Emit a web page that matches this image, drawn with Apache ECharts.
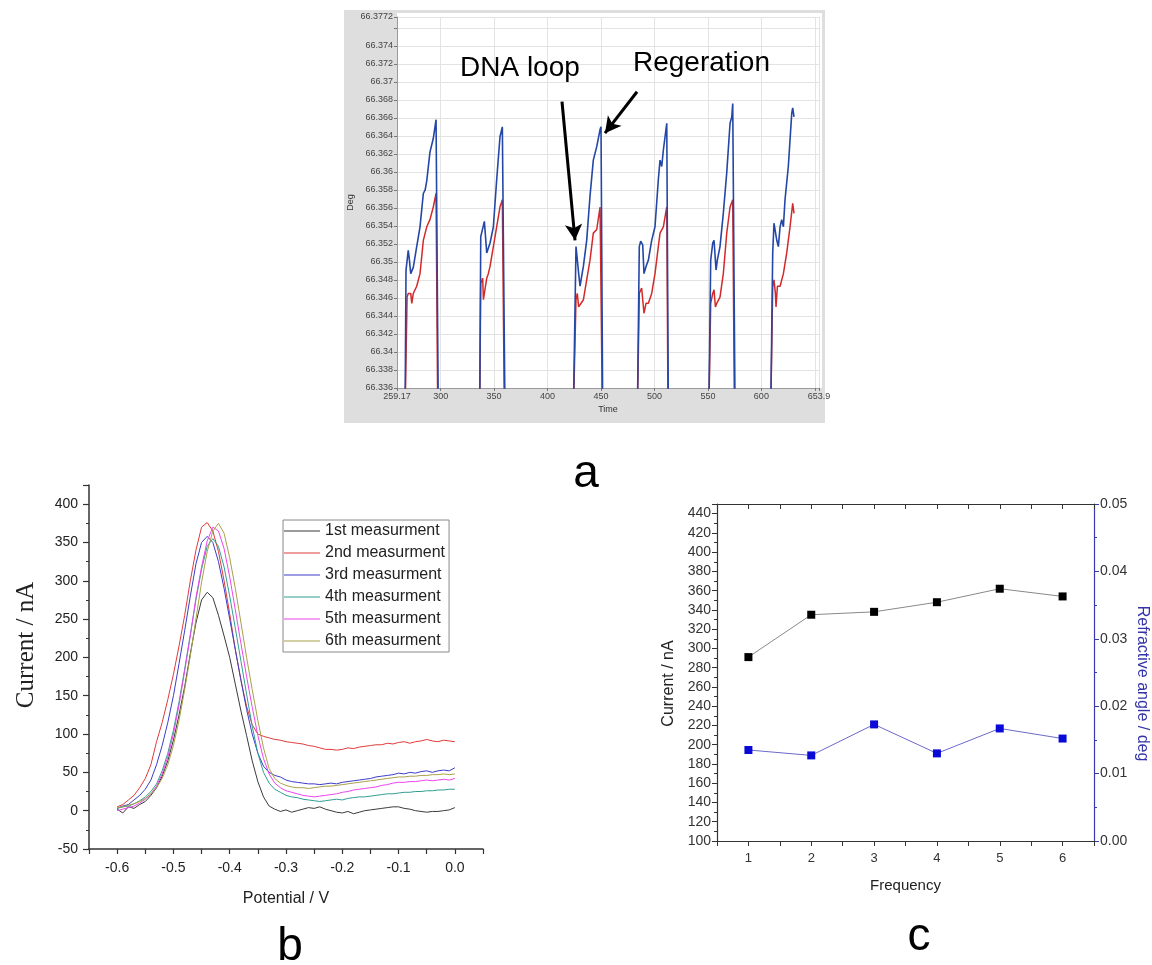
<!DOCTYPE html>
<html><head><meta charset="utf-8">
<script src="https://cdn.jsdelivr.net/npm/echarts@6/dist/echarts.min.js"></script>
<style>html,body{margin:0;padding:0;background:#fff}#c{width:1152px;height:965px}</style>
</head><body><div id="c"></div>
<script>
// ===== Panel a: SPR angle (Deg) vs Time, six cycles (blue & red channels) =====
const c1BlueT = [266.7, 267.6, 269.7, 270.8, 272.0, 274.4, 277.6, 280.7, 283.8, 285.5, 287.0, 290.0, 293.1, 295.7, 297.8];
const c1BlueV = [66.333, 66.3491, 66.3513, 66.3502, 66.3487, 66.3494, 66.3517, 66.3539, 66.3576, 66.3580, 66.3590, 66.3622, 66.3637, 66.3658, 66.333];
const c1RedT  = [266.7, 268.6, 269.7, 272.0, 273.0, 274.4, 277.6, 280.7, 283.8, 287.0, 290.0, 293.1, 295.7, 297.3];
const c1RedV  = [66.333, 66.3461, 66.3465, 66.3465, 66.3454, 66.3465, 66.3473, 66.3487, 66.3524, 66.3539, 66.3547, 66.3561, 66.3576, 66.333];

const c2BlueT = [336.5, 337.5, 340.9, 343.1, 346.2, 349.3, 352.4, 355.5, 357.7, 360.2];
const c2BlueV = [66.333, 66.3528, 66.3545, 66.3510, 66.3521, 66.3539, 66.3591, 66.3639, 66.3650, 66.333];
const c2RedT  = [336.5, 337.5, 339.3, 340.0, 343.1, 344.6, 346.2, 349.3, 352.4, 355.5, 357.7, 359.6];
const c2RedV  = [66.333, 66.3476, 66.3482, 66.3458, 66.3482, 66.3487, 66.3495, 66.3517, 66.3539, 66.3561, 66.3569, 66.333];

const c3BlueT = [424.1, 426.6, 427.8, 429.1, 430.4, 431.9, 433.5, 436.6, 439.7, 442.8, 446.0, 449.1, 450.0, 451.6];
const c3BlueV = [66.333, 66.3517, 66.3519, 66.3487, 66.3473, 66.3484, 66.3495, 66.3524, 66.3573, 66.3613, 66.3628, 66.3647, 66.3650, 66.333];
const c3RedT  = [424.1, 426.6, 427.8, 429.1, 430.4, 433.5, 436.6, 439.7, 442.8, 446.0, 449.1, 450.0, 451.3];
const c3RedV  = [66.333, 66.3458, 66.3465, 66.3450, 66.3449, 66.3458, 66.3480, 66.3502, 66.3532, 66.3536, 66.3561, 66.3563, 66.333];

const c4BlueT = [484.0, 485.8, 487.1, 489.0, 490.2, 492.1, 494.3, 497.4, 500.5, 503.6, 505.2, 506.8, 508.3, 511.5, 513.0];
const c4BlueV = [66.333, 66.3517, 66.3523, 66.3519, 66.3487, 66.3495, 66.3502, 66.3524, 66.3539, 66.3591, 66.3613, 66.3606, 66.3624, 66.3654, 66.333];
const c4RedT  = [484.0, 485.8, 488.0, 489.0, 490.2, 492.1, 494.3, 497.4, 500.5, 503.6, 505.2, 508.3, 511.5, 512.7];
const c4RedV  = [66.333, 66.3465, 66.3471, 66.3469, 66.3443, 66.3454, 66.3454, 66.3465, 66.3487, 66.3517, 66.3532, 66.3539, 66.3561, 66.333];

const c5BlueT = [550.8, 552.6, 554.5, 555.7, 557.6, 558.8, 561.3, 564.4, 567.6, 570.7, 572.3, 573.2, 575.4];
const c5BlueV = [66.333, 66.3502, 66.3521, 66.3524, 66.3491, 66.3502, 66.3517, 66.3554, 66.3599, 66.3654, 66.3661, 66.3676, 66.333];
const c5RedT  = [550.8, 552.6, 554.5, 555.7, 557.0, 558.3, 561.3, 564.4, 567.6, 570.7, 573.2, 574.8];
const c5RedV  = [66.333, 66.3454, 66.3465, 66.3469, 66.3450, 66.3454, 66.3461, 66.3487, 66.3532, 66.3561, 66.3569, 66.333];

const c6BlueT = [608.7, 610.6, 611.8, 613.1, 614.4, 615.9, 617.5, 619.0, 620.6, 622.1, 625.2, 628.4, 629.3, 630.5];
const c6BlueV = [66.333, 66.3510, 66.3543, 66.3545, 66.3524, 66.3517, 66.3539, 66.3547, 66.3539, 66.3569, 66.3606, 66.3665, 66.3671, 66.3661];
const c6RedT  = [608.7, 610.6, 611.8, 613.1, 613.7, 615.0, 617.5, 620.6, 623.7, 626.8, 629.3, 630.5];
const c6RedV  = [66.333, 66.3473, 66.3480, 66.3465, 66.3450, 66.3473, 66.3473, 66.3487, 66.3510, 66.3539, 66.3565, 66.3554];

// ===== Panel b: DPV current vs potential, six measurements =====
const potential = [-0.60,-0.59,-0.58,-0.57,-0.56,-0.55,-0.54,-0.53,-0.52,-0.51,-0.50,
  -0.49,-0.48,-0.47,-0.46,-0.45,-0.44,-0.43,-0.42,-0.41,-0.40,
  -0.39,-0.38,-0.37,-0.36,-0.35,-0.34,-0.33,-0.32,-0.31,-0.30,
  -0.29,-0.28,-0.27,-0.26,-0.25,-0.24,-0.23,-0.22,-0.21,-0.20,
  -0.19,-0.18,-0.17,-0.16,-0.15,-0.14,-0.13,-0.12,-0.11,-0.10,
  -0.09,-0.08,-0.07,-0.06,-0.05,-0.04,-0.03,-0.02,-0.01,0.00];
const meas1 = [2,-3,5,3,8,12,20,30,45,65,92,
  125,162,205,245,275,285,278,255,228,200,
  165,130,98,65,38,18,6,2,-1,1,
  -2,0,2,4,3,5,2,0,-2,-3,
  -1,-4,-2,0,1,2,3,4,5,5,
  3,2,0,-1,-2,-1,-1,0,1,4];
const meas2 = [5,8,14,20,30,42,60,90,115,145,178,
  215,255,300,340,370,376,365,338,300,257,
  210,170,136,112,100,97,95,93,92,90,
  89,88,87,85,84,82,80,80,79,80,
  82,81,83,84,85,86,86,88,87,89,
  90,88,90,91,93,91,90,92,91,90];
const meas3 = [3,6,8,14,20,28,40,60,85,115,150,
  192,235,280,322,350,358,350,325,290,250,
  210,170,132,100,75,58,50,46,44,40,
  38,37,36,35,35,34,35,36,35,37,
  38,39,40,41,42,44,45,46,47,49,
  48,50,49,51,52,50,52,53,52,56];
const meas4 = [3,5,6,9,13,18,25,35,52,75,105,
  142,185,230,275,315,345,355,345,318,280,
  238,195,152,110,75,50,36,28,24,20,
  18,17,15,14,13,12,13,14,15,14,
  16,17,18,18,19,20,21,22,22,23,
  24,24,25,25,26,26,27,27,28,28];
const meas5 = [0,2,4,6,10,15,22,32,48,70,100,
  138,182,228,278,318,352,370,365,342,305,
  262,218,175,135,98,68,48,36,30,26,
  24,22,20,19,18,19,20,21,22,24,
  25,27,28,29,30,31,33,34,36,37,
  37,38,38,39,40,39,40,41,40,42];
const meas6 = [4,5,7,9,12,16,22,30,42,60,85,
  118,158,202,250,298,338,365,375,362,330,
  290,245,200,158,118,82,55,42,36,33,
  31,30,30,29,30,31,32,32,33,34,
  35,36,37,38,39,40,41,42,43,44,
  44,45,45,46,46,47,47,48,47,48];
const measNames = ['1st measurment','2nd measurment','3rd measurment','4th measurment','5th measurment','6th measurment'];

// ===== Panel c: current & refractive angle vs frequency =====
const frequency = [1, 2, 3, 4, 5, 6];
const currentNA = [291, 335, 338, 348, 362, 354];
const angleDeg  = [0.0135, 0.0127, 0.0173, 0.0130, 0.0167, 0.0152];

// ================= build chart =================
const FONT = '"Liberation Sans", Arial, sans-serif';
const zip = (xs, ys) => xs.map((x, i) => [x, ys[i]]);
const chart = echarts.init(document.getElementById('c'));

const aCycles = [
  [c1BlueT, c1BlueV, c1RedT, c1RedV], [c2BlueT, c2BlueV, c2RedT, c2RedV],
  [c3BlueT, c3BlueV, c3RedT, c3RedV], [c4BlueT, c4BlueV, c4RedT, c4RedV],
  [c5BlueT, c5BlueV, c5RedT, c5RedV], [c6BlueT, c6BlueV, c6RedT, c6RedV]
];
const series = [];
aCycles.forEach((c, i) => {
  series.push({ type: 'line', name: 'red' + i, xAxisIndex: 0, yAxisIndex: 0, data: zip(c[2], c[3]),
    symbol: 'none', lineStyle: { color: '#d22a2a', width: 1.5 }, z: 2 });
  series.push({ type: 'line', name: 'blue' + i, xAxisIndex: 0, yAxisIndex: 0, data: zip(c[0], c[1]),
    symbol: 'none', lineStyle: { color: '#2447a6', width: 1.6 }, z: 3 });
});
// annotation arrows (panel a)
series[series.length - 1].markLine = {
  silent: true, animation: false, symbol: ['none', 'arrow'], symbolSize: [13, 16],
  lineStyle: { color: '#000', width: 3, type: 'solid' }, label: { show: false },
  emphasis: { disabled: true },
  data: [
    [{ coord: [413.5, 66.3678] }, { coord: [425.7, 66.3524] }],
    [{ coord: [483.7, 66.3689] }, { coord: [453.7, 66.3643] }]
  ]
};

const measColors = ['#3a3a3a', '#e03a3a', '#3c3cc8', '#2f9e92', '#ee44ee', '#a9a048'];
[meas1, meas2, meas3, meas4, meas5, meas6].forEach((m, i) => {
  series.push({ type: 'line', name: measNames[i], xAxisIndex: 1, yAxisIndex: 1,
    data: zip(potential, m), symbol: 'none', lineStyle: { color: measColors[i], width: 1 },
    itemStyle: { color: measColors[i] } });
});

series.push({ type: 'line', name: 'Current', xAxisIndex: 2, yAxisIndex: 2, data: zip(frequency, currentNA),
  symbol: 'rect', symbolSize: 8, itemStyle: { color: '#000' }, lineStyle: { color: '#888', width: 1 } });
series.push({ type: 'line', name: 'Angle', xAxisIndex: 2, yAxisIndex: 3, data: zip(frequency, angleDeg),
  symbol: 'rect', symbolSize: 8, itemStyle: { color: '#0a0ad8' }, lineStyle: { color: '#6a6ac8', width: 1 } });

const near = (a, b) => Math.abs(a - b) < 1e-7;

const option = {
  animation: false,
  textStyle: { fontFamily: FONT },
  grid: [
    { left: 397, top: 17, width: 422, height: 371 },
    { left: 89, top: 485, width: 394, height: 364 },
    { left: 717, top: 504, width: 377, height: 337 }
  ],
  legend: {
    data: measNames, orient: 'vertical', left: 283, top: 520, icon: 'rect', itemWidth: 36, itemHeight: 1.2,
    itemGap: 6, padding: [3, 4, 3, 1], borderColor: '#888', borderWidth: 1, selectedMode: false,
    textStyle: { fontSize: 16, color: '#222', fontFamily: FONT }
  },
  xAxis: [
    { gridIndex: 0, type: 'value', min: 259.17, max: 653.9, splitNumber: 8,
      name: 'Time', nameLocation: 'middle', nameGap: 17, nameTextStyle: { fontSize: 9, color: '#333' },
      axisLine: { lineStyle: { color: '#9a9a9a' } }, axisTick: { length: 3, lineStyle: { color: '#777' } },
      axisLabel: { fontSize: 9, color: '#444', margin: 4, formatter: v => near(v, 650) ? '' : String(+v.toFixed(2)) },
      splitLine: { show: true, lineStyle: { color: '#e3e3e3' } } },
    { gridIndex: 1, type: 'value', min: -0.65, max: 0.05, interval: 0.05,
      name: 'Potential / V', nameLocation: 'middle', nameGap: 42, nameTextStyle: { fontSize: 16, color: '#222' },
      axisLine: { onZero: false, lineStyle: { color: '#333', width: 1.5 } }, axisTick: { length: 5, lineStyle: { color: '#333', width: 1.2 } },
      axisLabel: { fontSize: 14, color: '#222', margin: 12,
        formatter: v => Math.abs(v * 10 - Math.round(v * 10)) < 1e-6 ? (Math.abs(v) < 1e-9 ? '0.0' : v.toFixed(1)) : '' },
      splitLine: { show: false } },
    { gridIndex: 2, type: 'value', min: 0.5, max: 6.5, interval: 0.5,
      name: 'Frequency', nameLocation: 'middle', nameGap: 37, nameTextStyle: { fontSize: 15, color: '#222' },
      axisLine: { onZero: false, lineStyle: { color: '#333', width: 1.2 } }, axisTick: { length: 5, lineStyle: { color: '#333' } },
      axisLabel: { fontSize: 13, color: '#333', margin: 11,
        formatter: v => Math.abs(v - Math.round(v)) < 1e-6 ? String(Math.round(v)) : '' },
      splitLine: { show: false } },
    { gridIndex: 2, type: 'value', position: 'top', min: 0.5, max: 6.5, interval: 0.5,
      axisLine: { onZero: false, lineStyle: { color: '#333', width: 1.2 } }, axisTick: { inside: true, length: 5, lineStyle: { color: '#333' } },
      axisLabel: { show: false }, splitLine: { show: false } }
  ],
  yAxis: [
    { gridIndex: 0, type: 'value', min: 66.336, max: 66.3772, interval: 0.002,
      name: 'Deg', nameLocation: 'middle', nameGap: 42, nameTextStyle: { fontSize: 9, color: '#333' },
      axisLine: { show: true, lineStyle: { color: '#9a9a9a' } }, axisTick: { show: true, length: 3, lineStyle: { color: '#777' } },
      axisLabel: { fontSize: 9, color: '#444', margin: 4, formatter: v => near(v, 66.376) ? '' : String(+v.toFixed(4)) },
      splitLine: { show: true, lineStyle: { color: '#e3e3e3' } } },
    { gridIndex: 1, type: 'value', min: -50, max: 425, interval: 50,
      name: 'Current / nA', nameLocation: 'middle', nameGap: 50,
      nameTextStyle: { fontSize: 25, color: '#222', fontFamily: '"Liberation Serif", "Times New Roman", serif', padding: [0, 0, 0, 44] },
      axisLine: { show: true, onZero: false, lineStyle: { color: '#333', width: 1.5 } },
      axisTick: { show: true, length: 6, lineStyle: { color: '#333', width: 1.2 } },
      minorTick: { show: true, splitNumber: 2, length: 3, lineStyle: { color: '#333' } },
      axisLabel: { fontSize: 14, color: '#222', margin: 11, formatter: v => (Math.abs(v % 50) < 1e-9 ? String(v) : '') },
      splitLine: { show: false } },
    { gridIndex: 2, type: 'value', position: 'left', min: 100, max: 450, interval: 20,
      name: 'Current / nA', nameLocation: 'middle', nameGap: 40,
      nameTextStyle: { fontSize: 16, color: '#222', padding: [0, 22, 0, 0] },
      axisLine: { show: true, onZero: false, lineStyle: { color: '#333', width: 1.2 } },
      axisTick: { show: true, length: 5, lineStyle: { color: '#333' } },
      minorTick: { show: true, splitNumber: 2, length: 3, lineStyle: { color: '#333' } },
      axisLabel: { fontSize: 14, color: '#333', margin: 6, formatter: v => near(v, 450) ? '' : String(v) },
      splitLine: { show: false } },
    { gridIndex: 2, type: 'value', position: 'right', min: 0, max: 0.05, interval: 0.01,
      name: 'Refractive angle / deg', nameLocation: 'middle', nameGap: 40, nameRotate: -90,
      nameTextStyle: { fontSize: 16, color: '#3434a8', padding: [0, 0, 0, 22] },
      axisLine: { show: true, onZero: false, lineStyle: { color: '#3a3ab0', width: 1.2 } },
      axisTick: { show: true, length: 5, lineStyle: { color: '#3a3ab0' } },
      minorTick: { show: true, splitNumber: 2, length: 3, lineStyle: { color: '#3a3ab0' } },
      axisLabel: { fontSize: 14, color: '#333', margin: 6, formatter: v => v.toFixed(2) },
      splitLine: { show: false } }
  ],
  graphic: [
    { type: 'rect', z: -100, shape: { x: 344, y: 10, width: 481, height: 413 }, style: { fill: '#dedede' } },
    { type: 'rect', z: -99, shape: { x: 397, y: 13, width: 425, height: 375 }, style: { fill: '#ffffff' } },
    { type: 'text', z: 100, x: 460, y: 68, style: { text: 'DNA loop', fontSize: 28, fontFamily: FONT, fill: '#000', verticalAlign: 'middle' } },
    { type: 'text', z: 100, x: 633, y: 63, style: { text: 'Regeration', fontSize: 28, fontFamily: FONT, fill: '#000', verticalAlign: 'middle' } },
    { type: 'text', z: 100, x: 586, y: 474, style: { text: 'a', fontSize: 46, fontFamily: FONT, fill: '#000', align: 'center', verticalAlign: 'middle' } },
    { type: 'text', z: 100, x: 290, y: 947, style: { text: 'b', fontSize: 46, fontFamily: FONT, fill: '#000', align: 'center', verticalAlign: 'middle' } },
    { type: 'text', z: 100, x: 919, y: 937, style: { text: 'c', fontSize: 46, fontFamily: FONT, fill: '#000', align: 'center', verticalAlign: 'middle' } }
  ],
  series: series
};
chart.setOption(option);
</script>
</body></html>
